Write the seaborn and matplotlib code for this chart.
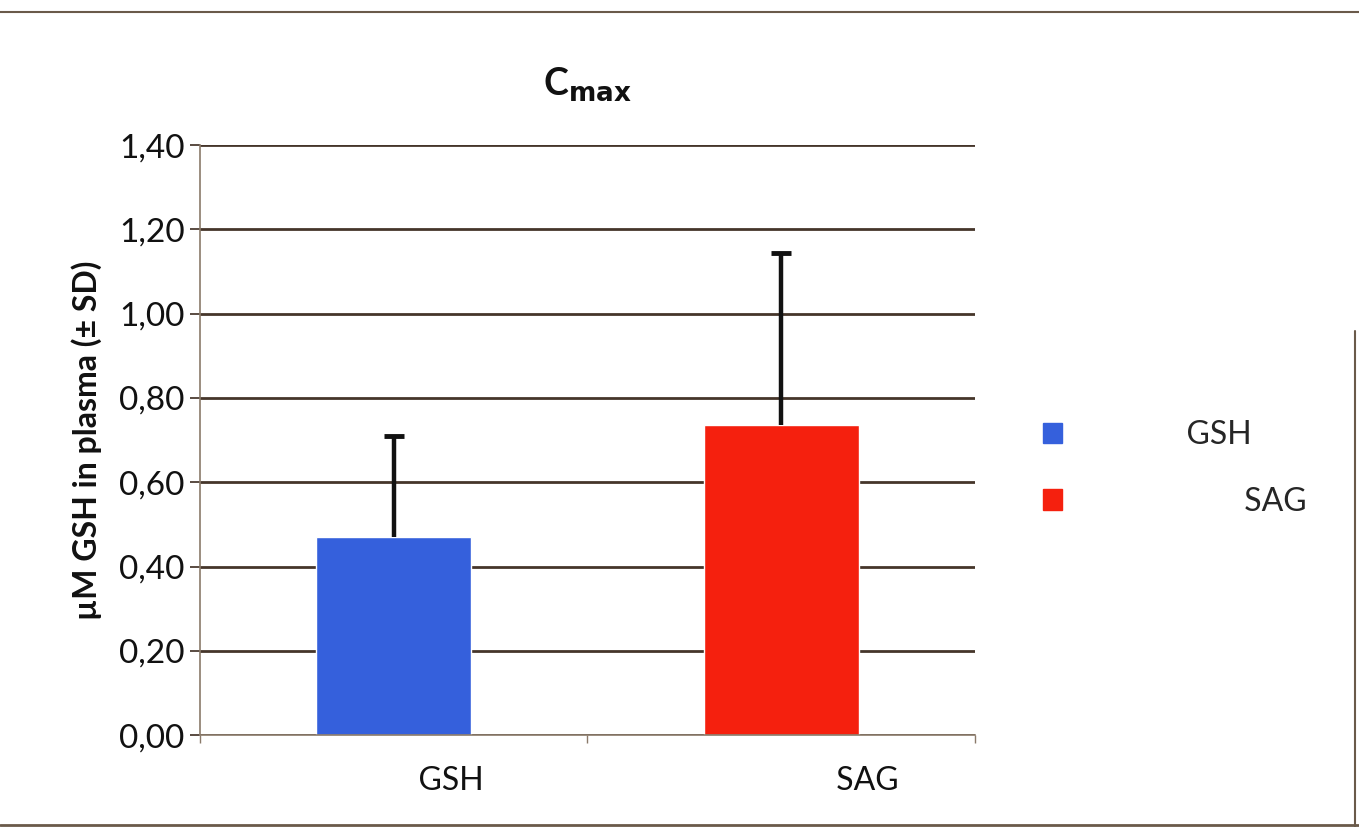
import matplotlib
matplotlib.use("Agg")
import matplotlib.pyplot as plt
import seaborn as sns
import pandas as pd
from matplotlib.patches import Patch
from matplotlib.ticker import FuncFormatter

categories = ["GSH", "SAG"]
means = [0.47, 0.735]
sds = [0.24, 0.41]
colors = ["#3560dc", "#f5200e"]
yticks = [0.0, 0.2, 0.4, 0.6, 0.8, 1.0, 1.2, 1.4]

sns.set_theme(style="white")
plt.rcParams["font.family"] = ["Lato", "DejaVu Sans"]

df = pd.DataFrame({"group": categories, "value": means})

fig = plt.figure(figsize=(13.59, 8.27), dpi=100)
ax = fig.add_axes([0.147, 0.111, 0.5705, 0.7136])

sns.barplot(data=df, x="group", y="value", hue="group", palette=colors,
            width=0.4, legend=False, ax=ax, saturation=1, errorbar=None)
eb = ax.errorbar(range(len(categories)), means, yerr=[[0] * len(sds), sds],
                 fmt="none", ecolor="#111111", elinewidth=3.2, capsize=7, capthick=3.5, zorder=5)
eb[1][0].set_visible(False)

grid_c = "#45352a"
ax.set_ylim(0, 1.4)
ax.set_xlim(-0.5, 1.5)
ax.set_yticks(yticks)
ax.yaxis.set_major_formatter(FuncFormatter(lambda v, p: f"{v:.2f}".replace(".", ",")))
ax.yaxis.grid(True, color=grid_c, linewidth=2)
ax.set_axisbelow(True)
for s in ["top", "right"]:
    ax.spines[s].set_visible(False)
for s in ["left", "bottom"]:
    ax.spines[s].set_color("#8a7a6a")
    ax.spines[s].set_linewidth(1.2)

ax.set_xticks([0, 1])
ax.set_xticklabels(["              GSH", "                     SAG"], fontsize=23, color="#111111")
ax.set_xticks([-0.5, 0.5, 1.5], minor=True)
ax.tick_params(axis="x", which="major", length=0, pad=22)
ax.tick_params(axis="x", which="minor", length=6, color="#8a7a6a", direction="out", bottom=True)
ax.tick_params(axis="y", labelsize=24, length=7, color=grid_c, direction="out", left=True,
               labelcolor="#111111", pad=4)

ax.set_xlabel("")
ax.set_ylabel("µM GSH in plasma (± SD)", fontsize=23, fontweight="bold", color="#111111", labelpad=12)
ax.set_title(r"C$_{\mathbf{max}}$", fontsize=27, fontweight="bold", pad=36, color="#111111")

handles = [Patch(facecolor=c, edgecolor=c) for c in colors]
leg = ax.legend(handles, ["              GSH", "                     SAG"], loc="center left",
                bbox_to_anchor=(1.05, 0.452), frameon=False, fontsize=23,
                handlelength=0.6, handleheight=0.6, handletextpad=0.3, labelspacing=1.15)

fig.add_artist(plt.Line2D([0, 1], [0.985, 0.985], color="#6a5a4a", linewidth=1.5, transform=fig.transFigure))
fig.add_artist(plt.Line2D([0, 1], [0.003, 0.003], color="#6a5a4a", linewidth=2, transform=fig.transFigure))
fig.add_artist(plt.Line2D([0.997, 0.997], [0.0, 0.6], color="#6a5a4a", linewidth=1.5, transform=fig.transFigure))

fig.savefig("out.png", dpi=100)
